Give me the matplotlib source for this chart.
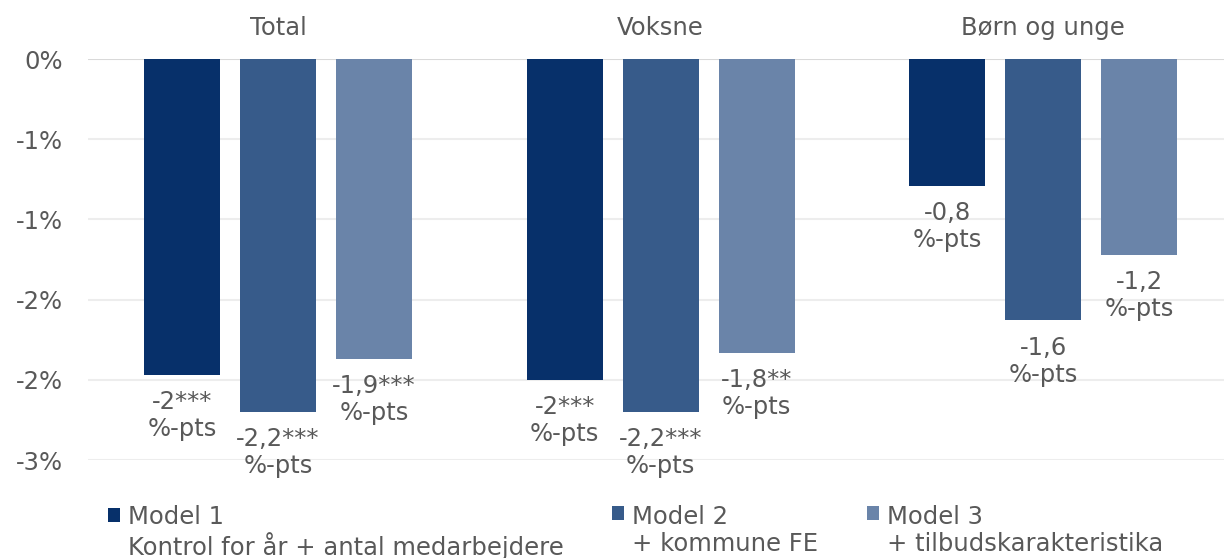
import matplotlib
matplotlib.use("Agg")
import matplotlib.pyplot as plt
from matplotlib.container import BarContainer
from matplotlib.legend_handler import HandlerPatch, update_from_first_child
from matplotlib.patches import Rectangle
import numpy as np

# ---- data (percentage points) ----
groups = ["Total", "Voksne", "Børn og unge"]
model_names = [
    "Model 1\nKontrol for år + antal medarbejdere",
    "Model 2\n+ kommune FE",
    "Model 3\n+ tilbudskarakteristika",
]
model1 = [-1.97, -2.00, -0.79]
model2 = [-2.20, -2.20, -1.63]
model3 = [-1.87, -1.83, -1.22]
labels1 = ["-2***\n%-pts", "-2***\n%-pts", "-0,8\n%-pts"]
labels2 = ["-2,2***\n%-pts", "-2,2***\n%-pts", "-1,6\n%-pts"]
labels3 = ["-1,9***\n%-pts", "-1,8**\n%-pts", "-1,2\n%-pts"]
ytick_vals = [0, -0.5, -1.0, -1.5, -2.0, -2.5]
ytick_labels = ["0%", "-1%", "-1%", "-2%", "-2%", "-3%"]

COLORS = ["#07306A", "#375B8A", "#6A84A9"]
TEXT = "#595959"
GRID = "#EDEDED"
FS = 17.5
LS = 1.15

plt.rcParams["font.family"] = ["DejaVu Sans"]

fig = plt.figure(figsize=(12.24, 5.58), dpi=100)
ax = fig.add_axes([88 / 1224, 98 / 558, 1 - 88 / 1224, 401 / 558])

x = np.arange(len(groups))
width = 0.199
offset = 0.251
series = [model1, model2, model3]
labels = [labels1, labels2, labels3]

for i, (vals, labs) in enumerate(zip(series, labels)):
    xs = x + (i - 1) * offset
    ax.bar(xs, vals, width=width, color=COLORS[i], label=model_names[i], zorder=2)
    for xi, v, lab in zip(xs, vals, labs):
        ax.annotate(lab, (xi, v), xytext=(0, -11), textcoords="offset points",
                    ha="center", va="top", fontsize=FS, color=TEXT, linespacing=LS)

ax.set_xlim(-0.497, 2.473)
ax.set_ylim(-2.5, 0)
ax.set_yticks(ytick_vals)
ax.set_yticklabels(ytick_labels)
ax.set_xticks(x)
ax.set_xticklabels(groups)
ax.xaxis.tick_top()
ax.tick_params(axis="x", length=0, pad=14, labelsize=FS, colors=TEXT)
ax.tick_params(axis="y", length=0, pad=18, labelsize=FS, colors=TEXT)

for yv in ytick_vals:
    ax.axhline(yv, color="#D9D9D9" if yv == 0 else GRID, linewidth=1.5, zorder=1)
for s in ax.spines.values():
    s.set_visible(False)


# legend square sits beside the first line of each two-line label
def _top_square(legend, orig_handle, xdescent, ydescent, width, height, fontsize):
    return Rectangle((-xdescent, -ydescent + fontsize * 0.75), width, height)


leg = ax.legend(loc="upper left", bbox_to_anchor=(20 / 1136, -0.112), ncol=3,
                frameon=False, fontsize=FS, labelcolor=TEXT,
                handlelength=0.49, handleheight=0.52, handletextpad=0.33,
                columnspacing=2.0, borderaxespad=0, borderpad=0,
                handler_map={BarContainer: HandlerPatch(
                    patch_func=_top_square, update_func=update_from_first_child)})
for t in leg.get_texts():
    t.set_linespacing(LS)
leg._legend_handle_box.align = "top"  # keep the "Model n" lines level

fig.savefig("out.png", dpi=100, facecolor="white")
